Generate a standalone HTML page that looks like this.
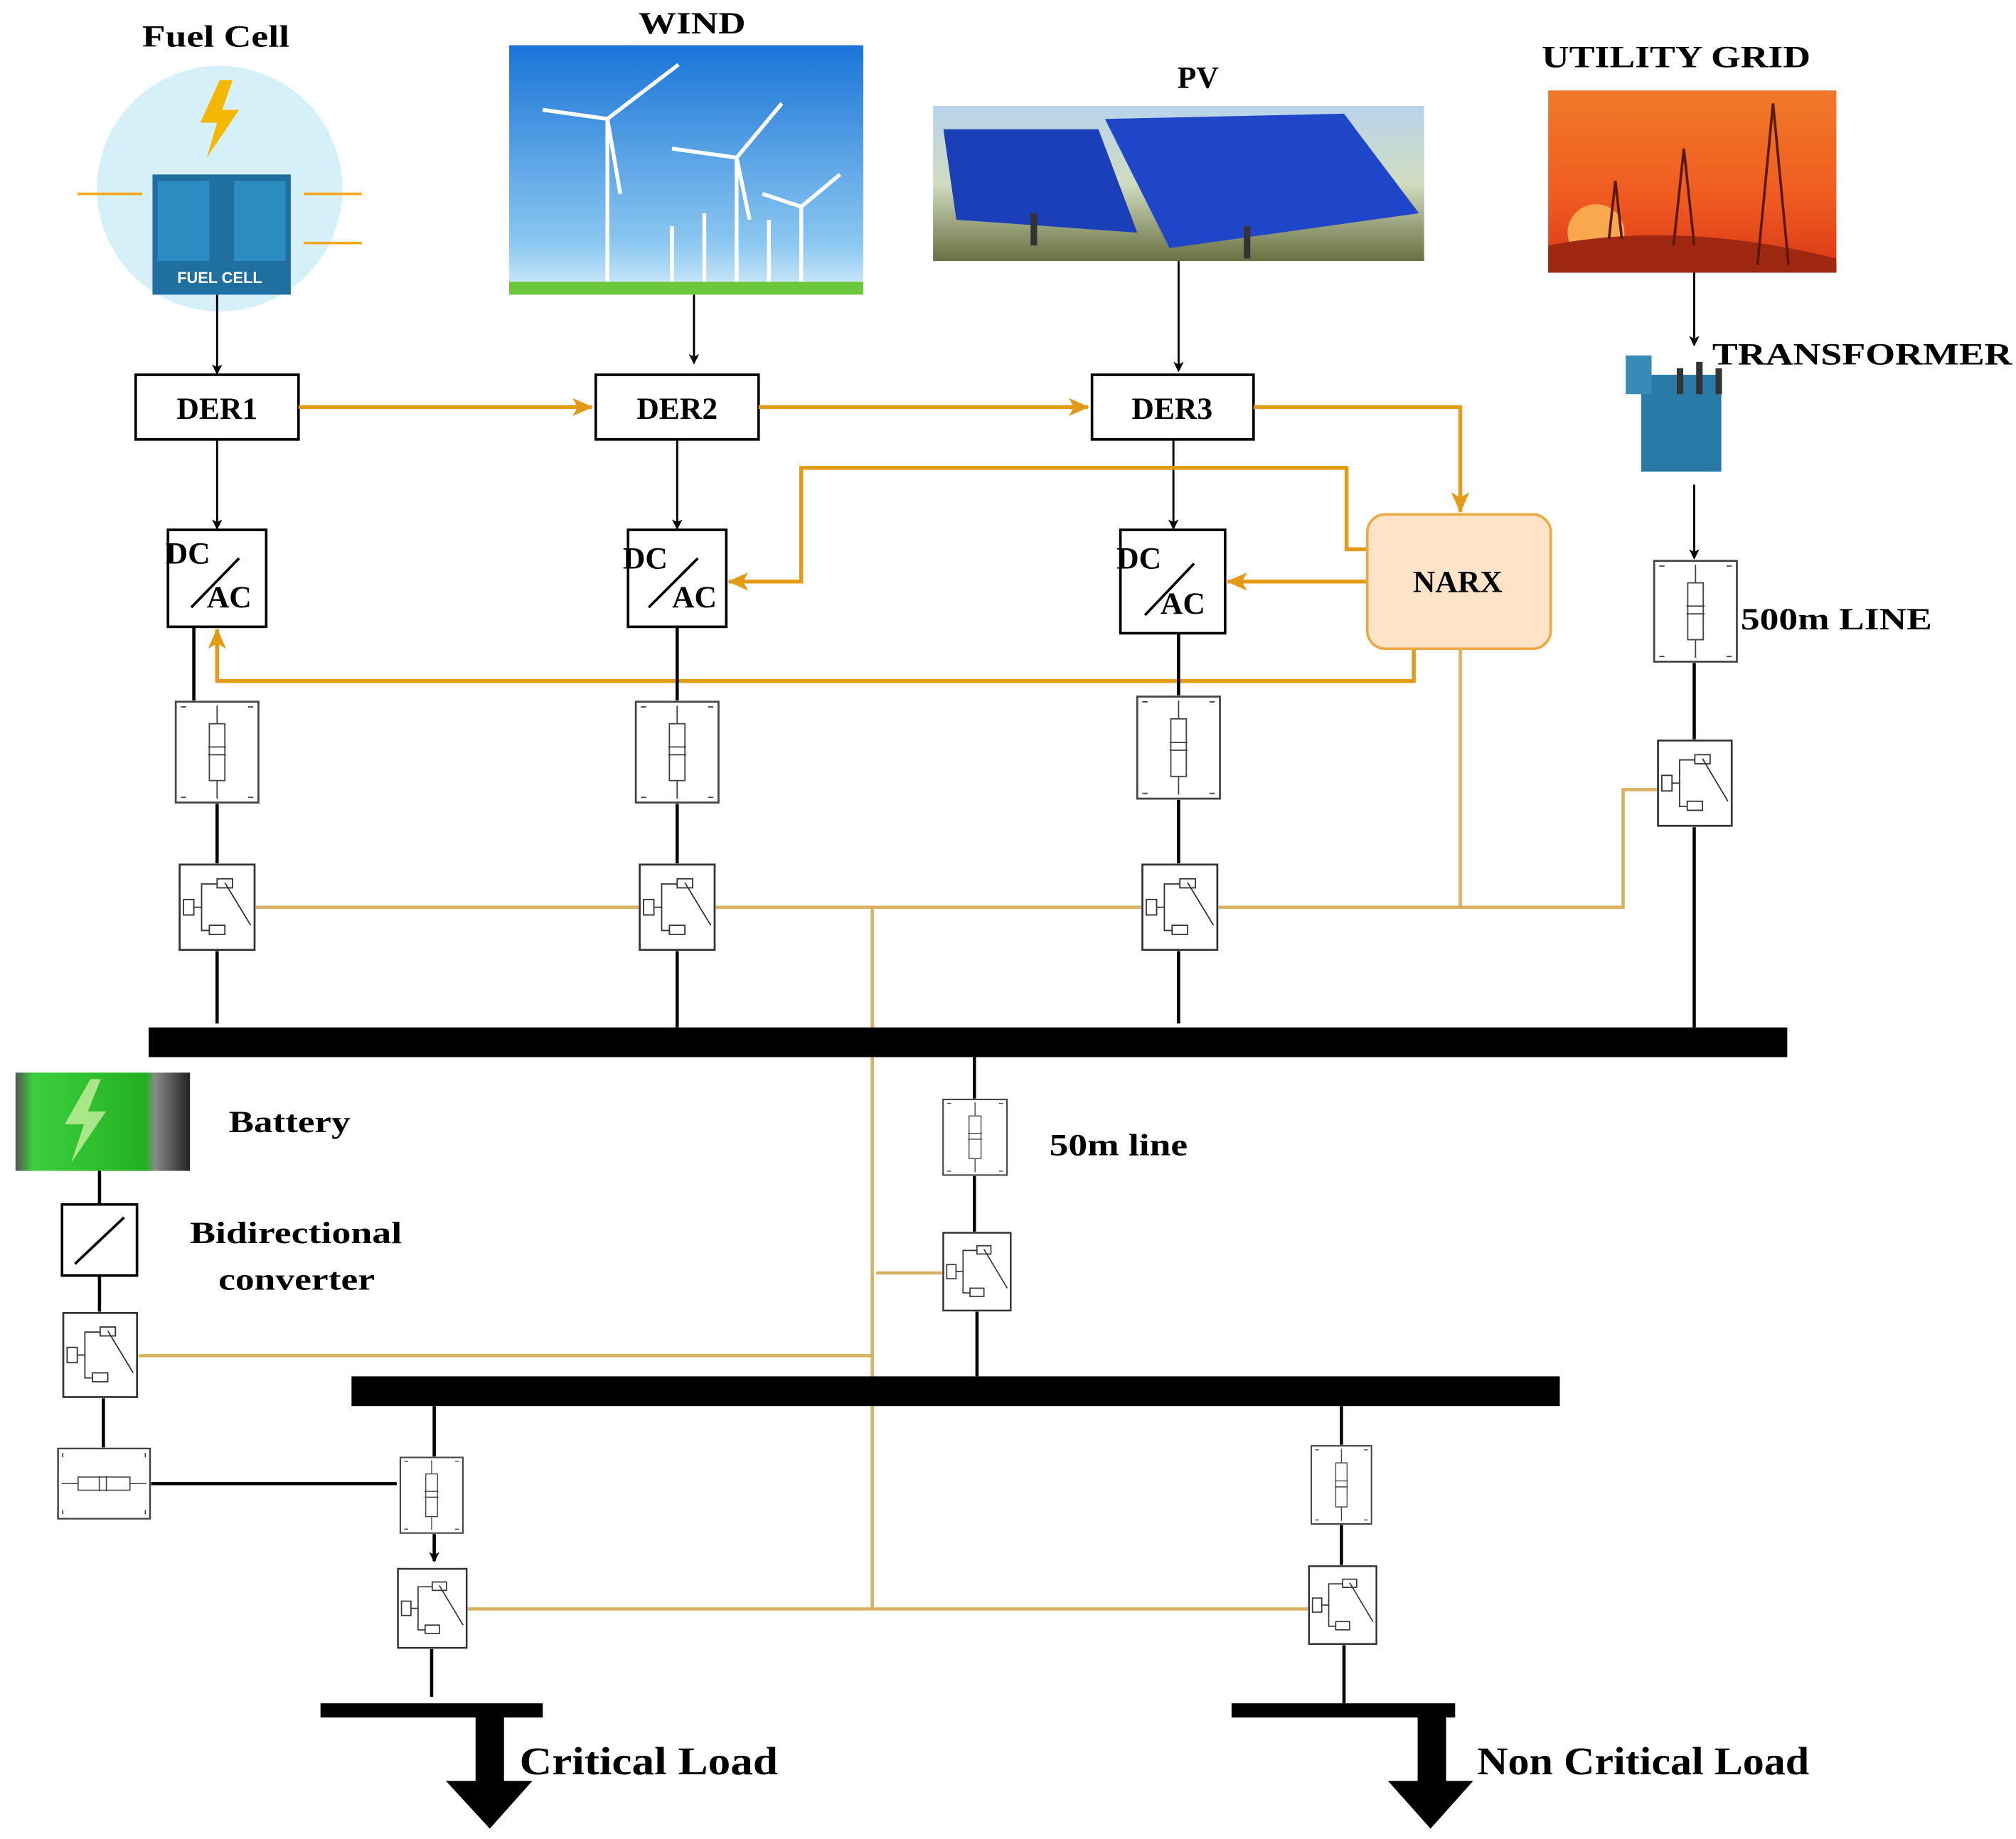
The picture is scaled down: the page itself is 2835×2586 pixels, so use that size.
<!DOCTYPE html>
<html><head><meta charset="utf-8"><style>
html,body{margin:0;padding:0;background:#fff;}
svg{display:block;}
text{font-family:"Liberation Serif",serif;font-weight:bold;fill:#000;}
</style></head><body>
<svg width="2835" height="2586" viewBox="0 0 1560 1423" preserveAspectRatio="none" xmlns="http://www.w3.org/2000/svg">
<defs>
<marker id="ab" markerWidth="8" markerHeight="8" refX="7" refY="4" orient="auto" markerUnits="userSpaceOnUse"><path d="M0,0 L8,4 L0,8 L2,4z" fill="#000"/></marker>
<marker id="ao" markerWidth="16" markerHeight="14" refX="15" refY="7" orient="auto" markerUnits="userSpaceOnUse"><path d="M0,0 L16,7 L0,14 L4,7z" fill="#E39B17"/></marker>
<symbol id="brk" viewBox="0 0 60 68" preserveAspectRatio="none">
<rect x="1" y="1" width="58" height="66" fill="#fff" stroke="#333" stroke-width="1.5"/>
<rect x="4" y="28" width="8" height="12" fill="#fff" stroke="#333"/>
<rect x="30" y="12" width="12" height="7" fill="#fff" stroke="#333"/>
<rect x="24" y="48" width="12" height="7" fill="#fff" stroke="#333"/>
<path d="M12,34 H18 V16 H30 M12,34 H18 V52 H24 M36,15 L56,48" stroke="#333" fill="none"/>
</symbol>
<symbol id="ln" viewBox="0 0 66 80" preserveAspectRatio="none">
<rect x="1" y="1" width="64" height="78" fill="#fff" stroke="#444" stroke-width="1.5"/>
<rect x="27" y="18" width="12" height="44" fill="#fff" stroke="#444"/>
<path d="M33,4 V18 M33,62 V76 M26,36 H40 M26,42 H40" stroke="#444"/>
<path d="M5,5 h4 M57,5 h4 M5,75 h4 M57,75 h4" stroke="#444"/>
</symbol>
<linearGradient id="sky" x1="0" y1="0" x2="0" y2="1"><stop offset="0" stop-color="#1a74d8"/><stop offset="0.8" stop-color="#8cc8f0"/><stop offset="1" stop-color="#d8eefa"/></linearGradient>
<linearGradient id="sun" x1="0" y1="0" x2="0" y2="1"><stop offset="0" stop-color="#f07a28"/><stop offset="0.6" stop-color="#f05a20"/><stop offset="1" stop-color="#d83818"/></linearGradient>
<linearGradient id="pvg" x1="0" y1="0" x2="0" y2="1"><stop offset="0" stop-color="#b8d4ec"/><stop offset="0.5" stop-color="#d0dcc0"/><stop offset="1" stop-color="#6a7040"/></linearGradient>
<linearGradient id="bat" x1="0" y1="0" x2="1" y2="0"><stop offset="0" stop-color="#555"/><stop offset="0.1" stop-color="#3ccf3c"/><stop offset="0.75" stop-color="#22b022"/><stop offset="0.8" stop-color="#888"/><stop offset="1" stop-color="#222"/></linearGradient>
</defs>

<text x="110" y="36" font-size="24" textLength="114" lengthAdjust="spacingAndGlyphs">Fuel Cell</text>
<text x="494" y="26" font-size="24" textLength="83" lengthAdjust="spacingAndGlyphs">WIND</text>
<text x="927" y="68" font-size="24" text-anchor="middle">PV</text>
<text x="1193" y="52" font-size="24" textLength="208" lengthAdjust="spacingAndGlyphs">UTILITY GRID</text>
<text x="1325" y="282" font-size="24" textLength="232" lengthAdjust="spacingAndGlyphs">TRANSFORMER</text>

<circle cx="170" cy="146" r="95" fill="#d6f0fa"/>
<rect x="118" y="135" width="107" height="93" fill="#1f6fa0"/>
<rect x="122" y="140" width="40" height="62" fill="#2a8cc0"/>
<rect x="181" y="140" width="40" height="62" fill="#2a8cc0"/>
<text x="170" y="219" font-size="12" text-anchor="middle" style="font-family:'Liberation Sans',sans-serif;fill:#fff">FUEL CELL</text>
<path d="M170,62 L155,95 L168,95 L160,122 L185,85 L172,85 L180,62z" fill="#f5b800"/>
<path d="M60,150 H110 M235,150 H280 M235,188 H280" stroke="#f5a623" stroke-width="2"/>

<rect x="394" y="35" width="274" height="193" fill="url(#sky)"/>
<rect x="394" y="218" width="274" height="10" fill="#6cc83a"/>
<g stroke="#fff" stroke-width="3" fill="none">
<path d="M470,92 V218 M470,92 L420,85 M470,92 L525,50 M470,92 L480,150"/>
<path d="M570,122 V218 M570,122 L520,115 M570,122 L605,80 M570,122 L580,170"/>
<path d="M620,160 V218 M620,160 L590,150 M620,160 L650,135"/>
<path d="M520,175 V218 M545,165 V218 M595,170 V218"/>
</g>

<rect x="722" y="82" width="380" height="120" fill="url(#pvg)"/>
<path d="M730,100 L850,100 L880,180 L740,170z" fill="#1a3fb8"/>
<path d="M855,92 L1040,88 L1098,165 L905,192z" fill="#1f46c8"/>
<path d="M965,175 V200 M800,165 V190" stroke="#333" stroke-width="5"/>

<rect x="1198" y="70" width="223" height="141" fill="url(#sun)"/>
<circle cx="1235" cy="180" r="22" fill="#f9a850"/>
<path d="M1198,190 Q1300,170 1421,200 V211 H1198z" fill="#a02810"/>
<path d="M1245,185 L1250,140 L1255,185 M1295,190 L1303,115 L1311,190 M1360,205 L1372,80 L1384,205" stroke="#5a1a08" stroke-width="2" fill="none"/>

<rect x="1270" y="290" width="62" height="75" fill="#2a7aa8"/>
<rect x="1258" y="275" width="20" height="30" fill="#3a8ab8"/>
<path d="M1300,285 V305 M1315,280 V305 M1330,285 V305" stroke="#333" stroke-width="5"/>

<g stroke="#000" stroke-width="1.6" fill="none" marker-end="url(#ab)">
<path d="M168,228 V289"/><path d="M537,228 V281"/><path d="M912,202 V287"/><path d="M1311,211 V267"/>
<path d="M168,340 V409"/><path d="M524,340 V409"/><path d="M908,340 V409"/><path d="M1311,375 V432"/>
</g>

<g fill="#fff" stroke="#000" stroke-width="2">
<rect x="105" y="290" width="126" height="50"/><rect x="461" y="290" width="126" height="50"/><rect x="845" y="290" width="125" height="50"/>
</g>
<text x="168" y="324" font-size="24" text-anchor="middle">DER1</text>
<text x="524" y="324" font-size="24" text-anchor="middle">DER2</text>
<text x="907" y="324" font-size="24" text-anchor="middle">DER3</text>

<g stroke="#E39B17" stroke-width="3" fill="none" marker-end="url(#ao)">
<path d="M231,315 H458"/><path d="M587,315 H842"/><path d="M970,315 H1130 V396"/>
<path d="M1058,425 H1042 V362 H620 V450 H564"/>
<path d="M1058,450 H950"/>
<path d="M1094,502 V527 H168 V487"/>
</g>

<rect x="1058" y="398" width="142" height="104" rx="14" fill="#FDE3C8" stroke="#EAAA40" stroke-width="2"/>
<text x="1128" y="458" font-size="24" text-anchor="middle">NARX</text>

<g fill="#fff" stroke="#000" stroke-width="2">
<rect x="130" y="410" width="76" height="75"/><rect x="486" y="410" width="76" height="75"/><rect x="867" y="410" width="81" height="80"/>
</g>
<g stroke="#000" stroke-width="2"><path d="M148,470 L185,432"/><path d="M502,470 L540,432"/><path d="M886,476 L924,436"/></g>
<text x="128" y="436" font-size="24">DC</text><text x="160" y="470" font-size="24">AC</text>
<text x="482" y="440" font-size="24">DC</text><text x="520" y="470" font-size="24">AC</text>
<text x="864" y="440" font-size="24">DC</text><text x="898" y="475" font-size="24">AC</text>

<g stroke="#000" stroke-width="2.5" fill="none">
<path d="M150,485 V542"/><path d="M524,485 V542"/><path d="M912,490 V538"/>
<path d="M168,622 V668 M168,736 V792"/><path d="M524,622 V668 M524,736 V795"/><path d="M912,619 V668 M912,736 V792"/>
<path d="M1311,513 V572 M1311,640 V795"/>
<path d="M754,818 V850 M754,910 V953 M756,1015 V1065"/>
<path d="M77,906 V932 M77,987 V1015 M80,1082 V1120"/>
<path d="M117,1148 H307"/>
<path d="M336,1088 V1127"/>
<path d="M1038,1088 V1118 M1038,1180 V1211 M1040,1273 V1318"/>
<path d="M334,1276 V1313"/>
</g>
<path d="M336,1187 V1208" stroke="#000" stroke-width="2.5" marker-end="url(#ab)"/>

<g stroke="#D9B062" stroke-width="2.5" fill="none">
<path d="M198,702 H494 M554,702 H883 M943,702 H1256 V611 H1282"/>
<path d="M1130,502 V702"/>
<path d="M675,702 V1245"/>
<path d="M678,985 H729"/>
<path d="M107,1049 H675"/>
<path d="M362,1245 H1012"/>
</g>

<rect x="115" y="795" width="1268" height="23" fill="#000"/>
<rect x="272" y="1065" width="935" height="23" fill="#000"/>

<use href="#ln" x="135" y="542" width="66" height="80"/>
<use href="#ln" x="491" y="542" width="66" height="80"/>
<use href="#ln" x="879" y="538" width="66" height="81"/>
<use href="#ln" x="1279" y="433" width="66" height="80"/>
<use href="#ln" x="729" y="850" width="51" height="60"/>
<use href="#ln" x="309" y="1127" width="50" height="60"/>
<use href="#ln" x="1014" y="1118" width="48" height="62"/>
<g transform="translate(44,1176) rotate(-90)"><use href="#ln" x="0" y="0" width="56" height="73"/></g>

<use href="#brk" x="138" y="668" width="60" height="68"/>
<use href="#brk" x="494" y="668" width="60" height="68"/>
<use href="#brk" x="883" y="668" width="60" height="68"/>
<use href="#brk" x="1282" y="572" width="59" height="68"/>
<use href="#brk" x="729" y="953" width="54" height="62"/>
<use href="#brk" x="48" y="1015" width="59" height="67"/>
<use href="#brk" x="307" y="1213" width="55" height="63"/>
<use href="#brk" x="1012" y="1211" width="54" height="62"/>

<rect x="12" y="830" width="135" height="76" fill="url(#bat)"/>
<path d="M70,835 L50,870 L65,870 L55,900 L82,860 L68,860 L78,835z" fill="#c8f0a0" opacity="0.8"/>
<text x="177" y="876" font-size="24" textLength="94" lengthAdjust="spacingAndGlyphs">Battery</text>
<rect x="48" y="932" width="58" height="55" fill="#fff" stroke="#000" stroke-width="2"/>
<path d="M58,978 L96,942" stroke="#000" stroke-width="2"/>
<text x="147" y="962" font-size="24" textLength="164" lengthAdjust="spacingAndGlyphs">Bidirectional</text>
<text x="169" y="998" font-size="24" textLength="121" lengthAdjust="spacingAndGlyphs">converter</text>

<text x="812" y="894" font-size="24" textLength="107" lengthAdjust="spacingAndGlyphs">50m line</text>
<text x="1347" y="487" font-size="24" textLength="148" lengthAdjust="spacingAndGlyphs">500m LINE</text>

<rect x="248" y="1318" width="172" height="11" fill="#000"/>
<rect x="368" y="1328" width="22" height="52" fill="#000"/>
<path d="M345,1378 H412 L379,1415z" fill="#000"/>
<text x="402" y="1373" font-size="30" textLength="200" lengthAdjust="spacingAndGlyphs">Critical Load</text>
<rect x="953" y="1318" width="173" height="11" fill="#000"/>
<rect x="1097" y="1328" width="22" height="52" fill="#000"/>
<path d="M1074,1378 H1140 L1107,1415z" fill="#000"/>
<text x="1143" y="1373" font-size="30" textLength="257" lengthAdjust="spacingAndGlyphs">Non Critical Load</text>
</svg>
</body></html>
